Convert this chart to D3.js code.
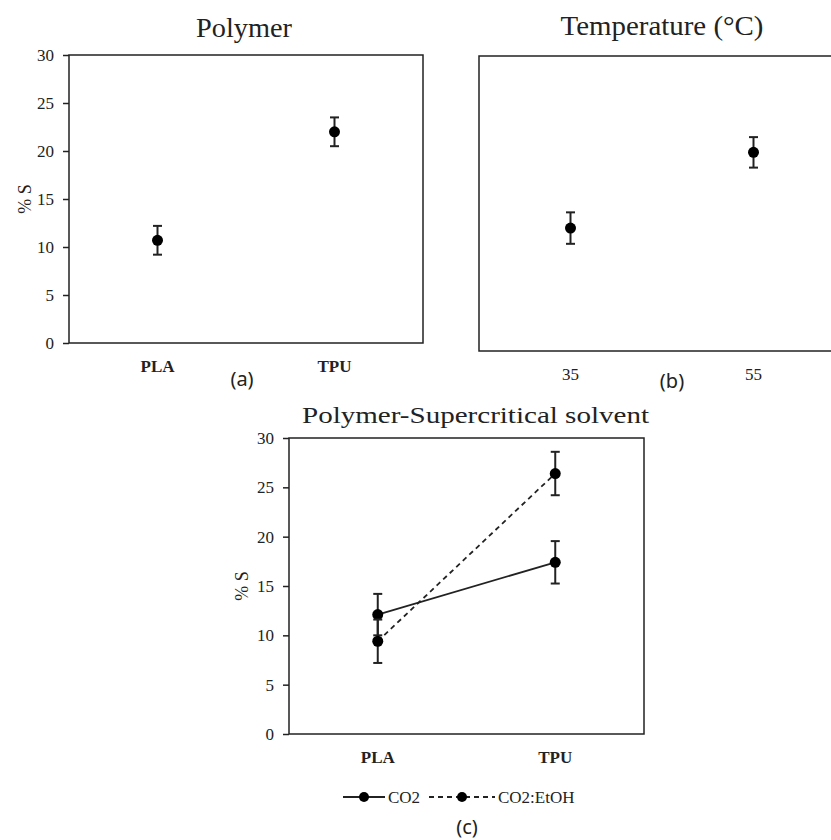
<!DOCTYPE html>
<html>
<head>
<meta charset="utf-8">
<script src="https://cdn.jsdelivr.net/npm/d3@7"></script>
<style>
  body { margin: 0; background: #fff; }
  svg text { font-family: "Liberation Serif", "Tinos", "Times New Roman", Times, serif; fill: #222; }
</style>
</head>
<body>
<div id="container"></div>
<script>
// data
const polymers = ["PLA", "TPU"];
const polymerMeans = [10.7, 22.0];
const polymerErr = [1.5, 1.5];

const temps = ["35", "55"];
const tempMeans = [12.5, 20.2];
const tempErr = [1.6, 1.55];

const solvents = ["CO2", "CO2:EtOH"];
const co2Means = [12.1, 17.4];
const co2Err = [2.1, 2.15];
const etohMeans = [9.4, 26.4];
const etohErr = [2.2, 2.2];

const yTicks = [0, 5, 10, 15, 20, 25, 30];

const width = 831;
const height = 840;
const ink = "#222";
const serif = "'Liberation Serif', 'Tinos', 'Times New Roman', Times, serif";

const svg = d3.select("#container")
  .append("svg")
  .attr("width", width)
  .attr("height", height);

// one little panel with a box, band x scale and 0-30 y scale
function panel(box, cats, opts) {
  const x = d3.scaleBand().domain(cats).range([box.left, box.right]);
  const y = d3.scaleLinear().domain([0, 30]).range([box.bottom, box.top]);
  const g = svg.append("g");

  g.append("rect")
    .attr("x", box.left).attr("y", box.top)
    .attr("width", box.right - box.left).attr("height", box.bottom - box.top)
    .attr("fill", "none").attr("stroke", ink).attr("stroke-width", 1.5);

  if (opts.yAxis) {
    const ya = g.append("g")
      .attr("transform", `translate(${box.left},0)`)
      .call(d3.axisLeft(y).tickValues(yTicks).tickSize(6).tickPadding(9));
    ya.attr("font-family", null);
    ya.select(".domain").remove();
    ya.selectAll(".tick line").attr("stroke", ink).attr("stroke-width", 1.5);
    ya.selectAll(".tick text").attr("font-size", 17).style("font-family", serif).attr("fill", ink);

    g.append("text")
      .attr("transform", `translate(${opts.yLabelX},${(box.top + box.bottom) / 2}) rotate(-90)`)
      .attr("text-anchor", "middle")
      .attr("font-size", 18)
      .text("% S");
  }

  const xa = g.append("g")
    .attr("transform", `translate(0,${box.bottom})`)
    .call(d3.axisBottom(x).tickSize(0).tickPadding(17));
  xa.attr("font-family", null);
  xa.select(".domain").remove();
  xa.selectAll(".tick text")
    .attr("font-size", 17)
    .style("font-family", serif)
    .attr("font-weight", opts.boldX ? "bold" : "normal")
    .attr("fill", ink);

  g.append("text")
    .attr("x", (box.left + box.right) / 2 + (opts.titleShift || 0))
    .attr("y", opts.titleY)
    .attr("text-anchor", "middle")
    .attr("font-size", opts.titleSize)
    .attr("textLength", opts.titleLen)
    .attr("lengthAdjust", "spacingAndGlyphs")
    .text(opts.title);

  return { g, x, y };
}

function drawPoints(p, cats, means, errs, dash) {
  const pts = cats.map((c, i) => ({ c, v: means[i], e: errs[i] }));
  if (dash !== undefined) {
    p.g.append("path")
      .datum(pts)
      .attr("fill", "none")
      .attr("stroke", ink)
      .attr("stroke-width", 1.8)
      .attr("stroke-dasharray", dash)
      .attr("d", d3.line().x(d => p.x(d.c) + p.x.bandwidth() / 2).y(d => p.y(d.v)));
  }
  const cx = d => p.x(d.c) + p.x.bandwidth() / 2;
  const eb = p.g.selectAll(null).data(pts).join("g").attr("stroke", ink).attr("stroke-width", 2);
  eb.append("line").attr("x1", cx).attr("x2", cx)
    .attr("y1", d => p.y(d.v + d.e)).attr("y2", d => p.y(d.v - d.e));
  eb.append("line").attr("x1", d => cx(d) - 4.5).attr("x2", d => cx(d) + 4.5)
    .attr("y1", d => p.y(d.v + d.e)).attr("y2", d => p.y(d.v + d.e));
  eb.append("line").attr("x1", d => cx(d) - 4.5).attr("x2", d => cx(d) + 4.5)
    .attr("y1", d => p.y(d.v - d.e)).attr("y2", d => p.y(d.v - d.e));
  p.g.selectAll(null).data(pts).join("circle")
    .attr("cx", cx).attr("cy", d => p.y(d.v))
    .attr("r", 5.5).attr("fill", "#000");
}

// (a) Polymer
const pa = panel({ left: 69, right: 423, top: 55, bottom: 343 }, polymers,
  { yAxis: true, yLabelX: 31, boldX: true, title: "Polymer", titleY: 37, titleSize: 27, titleLen: 96, titleShift: -2 });
drawPoints(pa, polymers, polymerMeans, polymerErr);

// (b) Temperature
const pb = panel({ left: 479, right: 845, top: 56, bottom: 351 }, temps,
  { yAxis: false, boldX: false, title: "Temperature (°C)", titleY: 35, titleSize: 27, titleLen: 203 });
drawPoints(pb, temps, tempMeans, tempErr);

// (c) Polymer-Supercritical solvent
const pc = panel({ left: 289, right: 644, top: 438, bottom: 734 }, polymers,
  { yAxis: true, yLabelX: 248, boldX: true, title: "Polymer-Supercritical solvent", titleY: 423, titleSize: 24, titleLen: 347, titleShift: 9 });
drawPoints(pc, polymers, co2Means, co2Err, "none");
drawPoints(pc, polymers, etohMeans, etohErr, "5,4");

// legend for (c)
const legend = svg.append("g").attr("transform", "translate(0,797)");
const legendItems = solvents.map((s, i) => ({ s, x0: [343, 429][i], x1: [385, 495][i], tx: [388, 498][i], dash: i ? "5,4" : "none" }));
legendItems.forEach(d => {
  legend.append("line")
    .attr("x1", d.x0).attr("x2", d.x1).attr("y1", 0).attr("y2", 0)
    .attr("stroke", ink).attr("stroke-width", 1.8).attr("stroke-dasharray", d.dash);
  legend.append("circle")
    .attr("cx", (d.x0 + d.x1) / 2).attr("cy", 0).attr("r", 5).attr("fill", "#000");
  legend.append("text")
    .attr("x", d.tx).attr("y", 6)
    .attr("font-size", 17)
    .text(d.s);
});

// panel letters
const letters = [
  { t: "(a)", x: 242, y: 386 },
  { t: "(b)", x: 672, y: 388 },
  { t: "(c)", x: 467, y: 834 }
];
svg.selectAll("text.letter")
  .data(letters)
  .join("text")
  .attr("class", "letter")
  .attr("x", d => d.x).attr("y", d => d.y)
  .attr("text-anchor", "middle")
  .attr("font-size", 20)
  .style("font-family", "'Noto Sans', sans-serif")
  .text(d => d.t);
</script>
</body>
</html>
